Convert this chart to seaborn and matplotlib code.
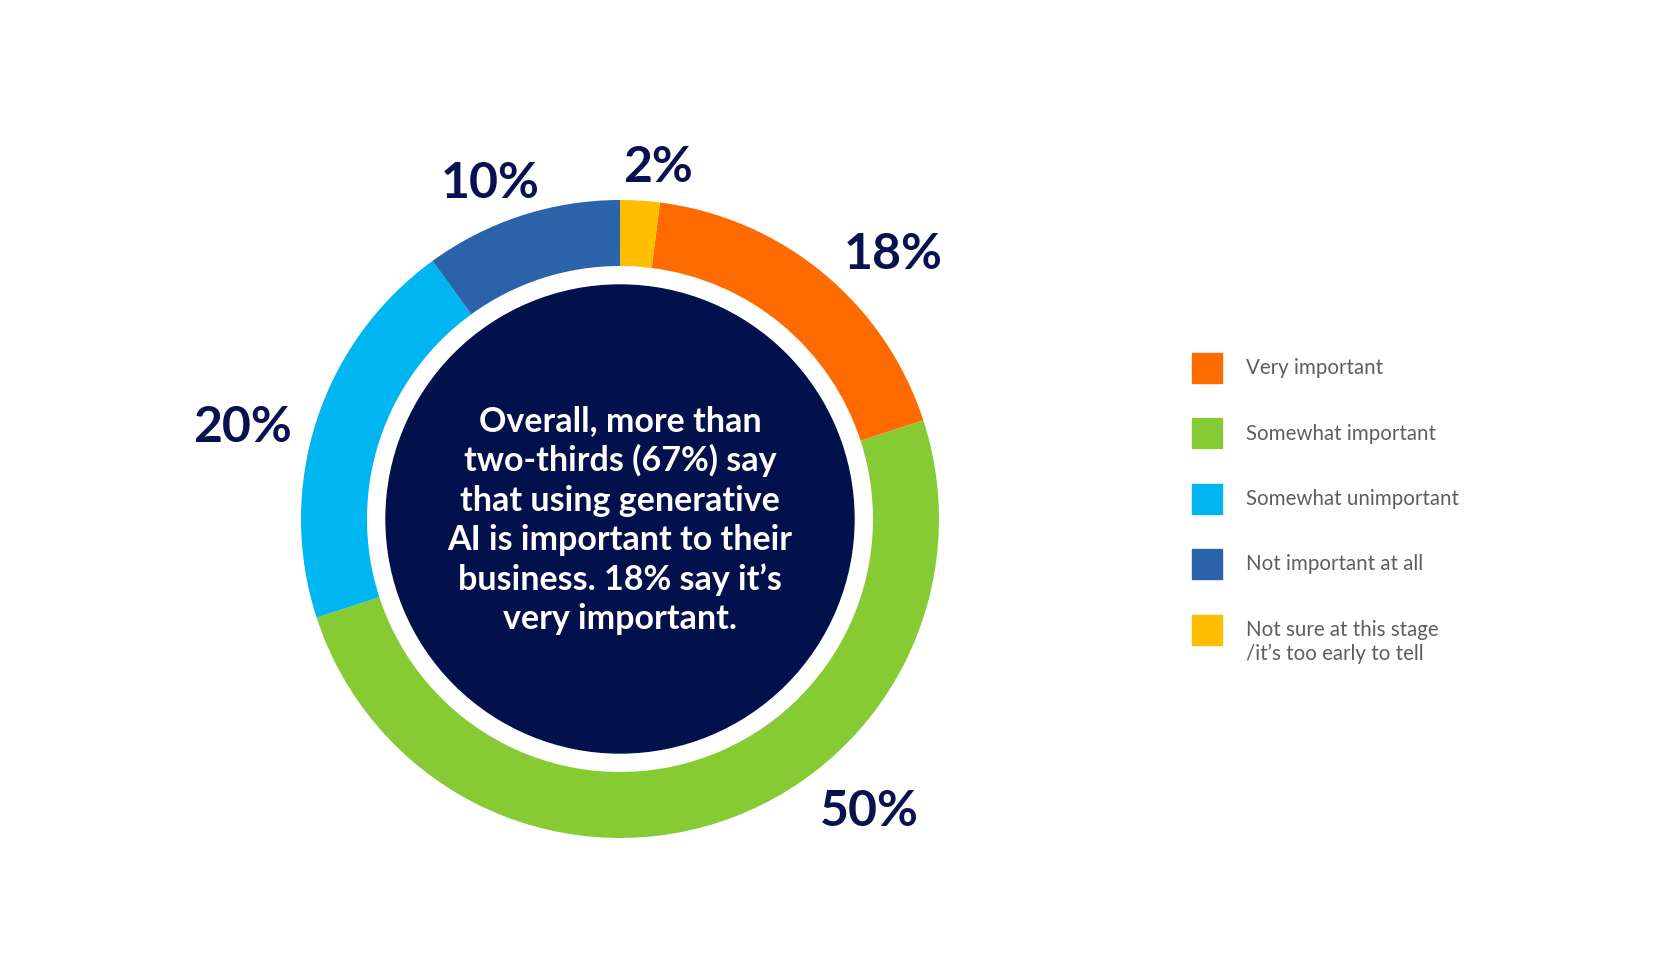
import numpy as np
import matplotlib.pyplot as plt
import seaborn as sns
from matplotlib.patches import Circle, Rectangle

# data (legend order)
categories = ['Very important', 'Somewhat important', 'Somewhat unimportant',
              'Not important at all', 'Not sure at this stage\n/it\u2019s too early to tell']
shares = [18, 50, 20, 10, 2]
pct_labels = ['18%', '50%', '20%', '10%', '2%']
colors = ['#FF6B00', '#86CB33', '#00B6F0', '#2B63AB', '#FFBE00']
center_text = ("Overall, more than\ntwo-thirds (67%) say\nthat using generative\n"
               "AI is important to their\nbusiness. 18% say it\u2019s\nvery important.")

sns.set_theme(style='white')
plt.rcParams['font.family'] = ['Lato', 'DejaVu Sans']

fig = plt.figure(figsize=(16.8, 9.8), dpi=100)
ax = fig.add_axes([0, 0, 1, 1])

cx, cy = 620, 461
r_out, ring_w, r_in = 319, 66, 234

# last slice (Not sure) should end exactly at 12 o'clock
start = 90 - shares[-1] / sum(shares) * 360
wedges, _ = ax.pie(shares, colors=colors, startangle=start, counterclock=False,
                   radius=r_out, center=(cx, cy), frame=True,
                   wedgeprops=dict(width=ring_w, edgecolor='none', linewidth=0))
ax.set_xlim(0, 1680)
ax.set_ylim(0, 980)
ax.set_aspect('equal')
ax.axis('off')

ax.add_patch(Circle((cx, cy), r_in, color='#02114B', zorder=3))
ax.text(cx, cy - 1, center_text, ha='center', va='center', color='white',
        fontsize=24.5, fontweight='bold', linespacing=1.28, zorder=4)

# percentage labels: angle offset (deg) and radius per slice
label_shift = [-6, 22.7, 4, 3, -2.5]
label_rad = [382, 382, 389, 363, 357]
cum = np.cumsum([0] + shares[:-1])
for i, (s, lab) in enumerate(zip(shares, pct_labels)):
    mid = start - (cum[i] + s / 2) / sum(shares) * 360 + label_shift[i]
    a = np.deg2rad(mid)
    ax.text(cx + label_rad[i] * np.cos(a), cy - 3 + label_rad[i] * np.sin(a), lab,
            ha='center', va='center', fontsize=36, fontweight='bold',
            color='#0A1150')

# legend drawn by hand so the square lines up with the first text line
for i, (lab, col) in enumerate(zip(categories, colors)):
    y = 980 - (368 + i * 65.5)
    ax.add_patch(Rectangle((1192, y - 15), 30, 30, color=col))
    ax.text(1246, y, lab.split('\n')[0], ha='left', va='center',
            fontsize=14.8, color='#5E5E5E')
    if '\n' in lab:
        ax.text(1246, y - 24, lab.split('\n')[1], ha='left', va='center',
                fontsize=14.8, color='#5E5E5E')

plt.savefig('out.png', dpi=100, facecolor='white')
